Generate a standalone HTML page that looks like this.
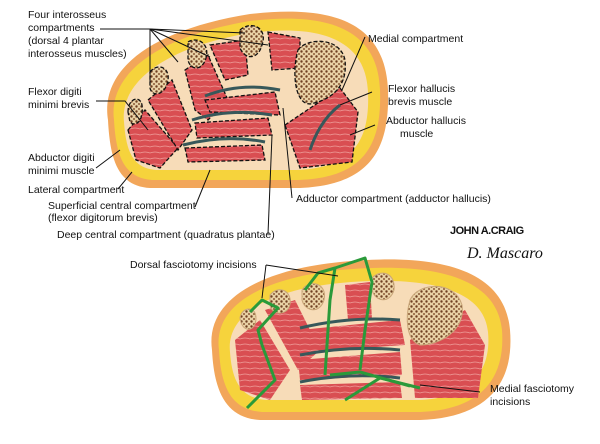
<!DOCTYPE html>
<html><head><style>
body{margin:0;background:#fff;}
svg{display:block;font-family:"Liberation Sans",sans-serif;}
text{font-size:10.5px;fill:#111;}
</style></head><body>
<svg width="600" height="444" viewBox="0 0 600 444">
<defs>
<pattern id="bone" width="5" height="5" patternUnits="userSpaceOnUse"><rect width="5" height="5" fill="#e9d2a6"/><circle cx="1.5" cy="1.5" r="1.2" fill="#6e3f22"/><circle cx="4" cy="4" r="1" fill="#8a5a35"/></pattern>
<pattern id="mus" width="10" height="6" patternUnits="userSpaceOnUse"><rect width="10" height="6" fill="#d94e52"/><path d="M0 3 Q5 1 10 3" stroke="#f0a09c" stroke-width="0.8" fill="none"/></pattern>
</defs>
<!-- TOP SECTION -->
<path d="M108 120 C100 70 150 30 250 14 C330 5 385 20 388 90 C390 150 370 185 300 188 L150 188 C118 186 110 160 108 120Z" fill="#f2a65a"/>
<path d="M114 120 C108 75 155 37 250 21 C325 12 378 27 380 90 C382 145 364 178 298 180 L152 180 C124 178 116 156 114 120Z" fill="#f6d33c"/>
<path d="M124 122 C120 85 160 48 250 33 C318 24 366 38 368 92 C370 140 354 168 296 170 L156 170 C132 168 126 150 124 122Z" fill="#f7dcb8"/>
<g stroke="#111" stroke-width="1.3" stroke-dasharray="4 2">
<path d="M128 130 L145 110 L178 148 L160 168 L136 160Z" fill="url(#mus)"/>
<path d="M148 100 L172 80 L192 130 L178 150Z" fill="url(#mus)"/>
<path d="M185 70 L208 55 L228 100 L208 120 L195 110Z" fill="url(#mus)"/>
<path d="M210 45 L245 40 L248 75 L225 80Z" fill="url(#mus)"/>
<path d="M268 32 L300 38 L300 68 L272 70Z" fill="url(#mus)"/>
<path d="M205 100 L275 92 L280 115 L210 112Z" fill="url(#mus)"/>
<path d="M195 123 L268 118 L272 135 L197 138Z" fill="url(#mus)"/>
<path d="M185 148 L262 145 L265 160 L188 162Z" fill="url(#mus)"/>
<path d="M285 125 L340 88 L358 112 L352 162 L300 168Z" fill="url(#mus)"/>
</g>
<g stroke="#111" stroke-width="1.3" stroke-dasharray="4 2" fill="url(#bone)">
<path d="M128 112 C128 98 140 95 142 105 C144 120 136 128 130 122Z"/>
<path d="M150 72 C158 62 170 68 168 80 C166 95 152 98 150 88Z"/>
<path d="M188 42 C198 36 210 44 206 58 C202 72 190 70 188 60Z"/>
<path d="M240 30 C252 20 268 28 262 45 C258 60 245 60 240 48Z"/>
<path d="M298 50 C306 38 340 36 345 60 C348 88 330 100 310 104 C294 104 292 70 298 50Z"/>
</g>
<g stroke="#37585a" stroke-width="3" fill="none">
<path d="M205 96 Q240 82 280 90"/><path d="M192 120 Q230 108 272 115"/><path d="M183 145 Q225 134 265 142"/><path d="M310 150 Q320 120 340 105"/>
</g>
<!-- BOTTOM SECTION -->
<path d="M212 350 C205 300 260 270 340 262 C440 252 505 270 510 330 C515 390 480 418 420 420 L260 420 C225 418 214 390 212 350Z" fill="#f2a65a"/>
<path d="M219 350 C213 305 263 278 340 270 C436 261 497 278 502 330 C506 385 474 410 420 412 L262 412 C230 410 221 385 219 350Z" fill="#f6d33c"/>
<path d="M230 352 C226 315 268 290 340 283 C430 275 484 290 488 332 C492 375 466 398 420 400 L266 400 C240 398 232 380 230 352Z" fill="#f7dcb8"/>
<g fill="url(#mus)">
<path d="M235 340 L260 320 L290 370 L270 400 L240 390Z"/>
<path d="M265 310 L295 300 L320 350 L298 370Z"/>
<path d="M300 330 L400 320 L405 345 L305 352Z"/>
<path d="M298 360 L400 352 L402 375 L300 380Z"/>
<path d="M300 385 L400 382 L402 398 L302 400Z"/>
<path d="M410 340 L465 310 L485 345 L478 398 L415 398Z"/>
<path d="M345 285 L370 282 L372 320 L348 320Z"/>
</g>
<g fill="url(#bone)" stroke="#c9a77a">
<path d="M240 318 C242 306 256 306 256 318 C256 332 242 334 240 318Z"/>
<path d="M270 295 C278 285 292 290 290 304 C288 316 272 316 270 305Z"/>
<path d="M302 290 C310 278 328 284 324 300 C320 314 305 312 302 300Z"/>
<path d="M372 278 C382 268 396 274 394 290 C390 304 375 302 372 290Z"/>
<path d="M410 300 C418 282 455 280 462 305 C466 330 440 345 420 345 C406 340 405 318 410 300Z"/>
</g>
<g stroke="#37585a" stroke-width="3" fill="none">
<path d="M300 328 Q350 316 400 320"/><path d="M300 355 Q350 345 400 350"/><path d="M300 382 Q350 372 400 378"/>
</g>
<g stroke="#2a9a3a" stroke-width="3" fill="none" stroke-linejoin="round">
<path d="M247 408 L275 380 L262 345 L258 330 L278 308 L262 300 L250 312"/>
<path d="M305 290 L318 273 L335 268"/>
<path d="M325 375 L330 300 L335 268 L365 258 L372 282 L365 330 L360 370"/>
<path d="M345 400 L380 378 L420 388"/>
<path d="M330 375 L360 372 L410 386"/>
</g>
<g stroke="#111" stroke-width="1" fill="none">
<path d="M100 29 L150 29 L150 82"/><path d="M150 29 L178 62"/><path d="M150 29 L210 57"/><path d="M150 29 L268 45"/><path d="M150 29 L245 33"/>
<path d="M96 101 L125 101 L148 130"/>
<path d="M96 168 L120 150"/><path d="M118 189 L132 172"/>
<path d="M195 207 L210 170"/><path d="M268 234 L272 135 "/>
<path d="M292 198 L283 108"/>
<path d="M365 37 L342 90"/><path d="M372 92 L340 105"/><path d="M375 125 L350 135"/>
<path d="M266 265 L262 298"/><path d="M266 265 L338 276"/>
<path d="M480 392 L420 385"/>
</g>
<text x="28" y="18">Four interosseus</text>
<text x="28" y="31">compartments</text>
<text x="28" y="44">(dorsal 4 plantar</text>
<text x="28" y="57">interosseus muscles)</text>
<text x="28" y="95">Flexor digiti</text>
<text x="28" y="108">minimi brevis</text>
<text x="28" y="161">Abductor digiti</text>
<text x="28" y="174">minimi muscle</text>
<text x="28" y="193">Lateral compartment</text>
<text x="48" y="209">Superficial central compartment</text>
<text x="48" y="221">(flexor digitorum brevis)</text>
<text x="57" y="238">Deep central compartment (quadratus plantae)</text>
<text x="296" y="202">Adductor compartment (adductor hallucis)</text>
<text x="368" y="42">Medial compartment</text>
<text x="388" y="92">Flexor hallucis</text>
<text x="388" y="105">brevis muscle</text>
<text x="386" y="124">Abductor hallucis</text>
<text x="400" y="137">muscle</text>
<text x="130" y="268">Dorsal fasciotomy incisions</text>
<text x="490" y="392">Medial fasciotomy</text>
<text x="490" y="405">incisions</text>
<text x="450" y="234" style="font-size:11px;font-weight:bold;letter-spacing:-0.5px">JOHN A.CRAIG</text>
<text x="467" y="258" style="font-size:16px;font-style:italic;font-family:'Liberation Serif',serif">D. Mascaro</text>
</svg>
</body></html>
